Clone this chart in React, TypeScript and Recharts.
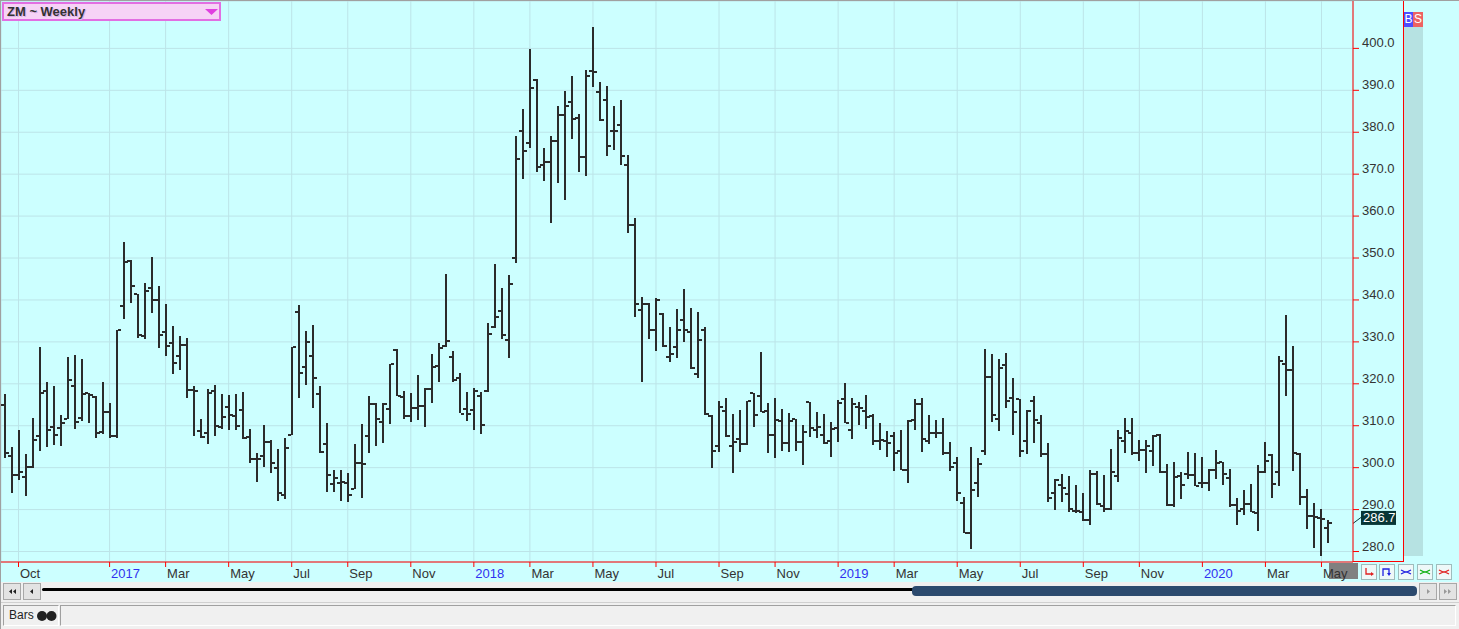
import React from 'react';
import {
  ComposedChart,
  Bar,
  XAxis,
  YAxis,
  CartesianGrid,
  ReferenceLine,
} from 'recharts';

// weekly OHLC, ZM, week 0 = Sep 23 2016
const OPEN = [
  314.9, 302.8, 298.3, 297.8, 300.2, 307.5, 318.3, 309.7, 309.4, 311.5,
  319.4, 311.9, 317.7, 316.8, 308.5, 313.3, 307.5, 338.5, 349.2, 341.3,
  331.3, 342.8, 340.1, 332.4, 329.8, 326.7, 329.2, 318.5, 308.7, 308.2,
  318.3, 309.8, 314.4, 312.3, 313.7, 307.3, 302.1, 302.8, 306.1, 299.8,
  293.5, 307.8, 337.1, 324.0, 326.6, 317.5, 305.7, 296.2, 296.4, 296.4,
  294.8, 301.0, 307.5, 315.1, 310.9, 313.9, 328.1, 316.9, 312.3, 314.3,
  314.7, 318.7, 324.2, 329.1, 326.3, 321.3, 314.0, 313.7, 317.1, 318.3,
  333.5, 337.3, 330.4, 349.9, 380.2, 377.4, 392.5, 372.1, 372.8, 378.0,
  384.1, 387.1, 383.5, 374.2, 394.7, 389.7, 387.7, 380.2, 381.7, 372.1,
  357.9, 337.5, 339.1, 332.9, 336.7, 326.3, 328.7, 335.2, 332.4, 322.3,
  332.8, 312.3, 305.2, 313.5, 305.2, 306.9, 305.7, 317.8, 317.1, 313.5,
  307.7, 311.1, 306.0, 311.6, 306.1, 315.7, 309.0, 307.8, 306.3, 309.5,
  316.4, 309.0, 314.5, 313.5, 312.3, 306.3, 306.3, 307.5, 304.0, 299.4,
  311.3, 315.1, 306.3, 308.2, 308.2, 303.4, 301.0, 291.5, 284.4, 296.3,
  303.9, 321.6, 311.7, 324.4, 316.7, 316.4, 306.3, 316.0, 310.7, 303.2,
  293.9, 295.9, 293.8, 289.7, 289.4, 287.5, 298.4, 290.9, 290.1, 298.0,
  306.3, 308.2, 303.4, 304.2, 304.0, 307.7, 299.0, 291.0, 298.0, 298.6,
  298.3, 296.4, 296.4, 299.4, 301.3, 297.6, 291.1, 290.1, 291.4, 289.3,
  299.0, 303.0, 299.0, 324.8, 323.4, 303.3, 293.0, 288.5, 287.9, 285.5,
];

const HIGH = [
  317.6, 304.9, 309.1, 303.2, 311.9, 328.8, 320.5, 319.4, 312.5, 326.3,
  326.9, 326.0, 317.9, 317.0, 320.5, 315.5, 332.9, 353.8, 349.5, 341.4,
  344.0, 350.2, 343.4, 339.1, 333.9, 331.5, 331.0, 319.4, 311.5, 318.7,
  319.6, 317.5, 317.3, 317.5, 318.1, 309.3, 303.4, 310.1, 306.5, 304.4,
  307.1, 328.8, 338.9, 332.7, 334.1, 319.5, 310.6, 299.4, 299.4, 298.7,
  305.6, 310.3, 317.2, 315.5, 315.5, 324.8, 328.2, 318.2, 317.9, 322.0,
  319.1, 327.1, 329.8, 346.3, 327.9, 322.5, 318.1, 319.0, 318.0, 334.5,
  348.6, 342.9, 345.9, 379.2, 385.5, 399.8, 392.6, 376.2, 379.0, 386.3,
  389.8, 393.3, 384.3, 394.8, 405.2, 391.9, 391.0, 386.3, 387.7, 374.6,
  359.5, 340.7, 339.3, 340.5, 336.9, 333.6, 337.9, 342.7, 338.1, 337.1,
  333.6, 312.5, 315.8, 316.7, 312.9, 313.7, 316.0, 317.9, 327.5, 315.5,
  316.5, 314.1, 313.1, 311.7, 310.2, 315.7, 313.3, 312.9, 311.0, 316.1,
  320.2, 316.7, 315.6, 317.4, 312.7, 310.7, 308.7, 308.6, 308.9, 311.3,
  316.4, 316.7, 312.5, 311.3, 311.9, 306.2, 302.6, 293.1, 305.0, 302.4,
  328.2, 327.2, 325.8, 327.4, 321.4, 316.4, 313.7, 317.2, 312.5, 306.0,
  297.2, 298.4, 297.9, 295.8, 294.0, 299.4, 299.2, 298.2, 304.4, 309.1,
  311.9, 311.9, 306.7, 306.5, 307.7, 308.1, 300.8, 301.4, 299.0, 303.8,
  303.4, 302.6, 299.6, 304.1, 301.4, 299.6, 292.7, 294.6, 296.0, 300.6,
  306.2, 303.2, 326.7, 336.5, 329.1, 303.6, 294.8, 291.5, 290.1, 287.5,
];

const LOW = [
  302.4, 294.0, 297.2, 293.3, 300.0, 304.1, 305.0, 305.4, 305.2, 311.5,
  309.3, 311.1, 310.7, 307.1, 308.2, 307.1, 307.1, 335.5, 339.3, 331.0,
  330.6, 336.9, 328.6, 326.6, 322.4, 323.3, 316.7, 307.4, 306.9, 305.7,
  307.4, 309.1, 309.0, 309.0, 306.9, 301.3, 296.6, 300.2, 298.7, 292.1,
  292.6, 307.7, 316.8, 319.8, 314.4, 303.6, 294.2, 294.2, 292.1, 291.8,
  294.8, 292.7, 303.7, 305.2, 305.9, 310.4, 316.9, 311.5, 310.9, 311.3,
  309.7, 315.4, 320.4, 328.8, 320.4, 312.9, 311.3, 309.1, 308.1, 318.0,
  333.3, 330.7, 326.2, 349.0, 368.8, 376.2, 370.5, 368.3, 358.2, 367.9,
  363.9, 378.3, 370.4, 369.6, 390.9, 382.7, 374.2, 375.8, 372.1, 356.0,
  335.9, 320.5, 330.7, 327.8, 328.8, 325.2, 326.2, 330.0, 323.6, 321.3,
  312.5, 299.9, 303.7, 307.4, 298.8, 303.6, 305.6, 309.9, 313.3, 303.6,
  302.1, 304.2, 303.8, 304.0, 300.6, 307.4, 307.1, 305.8, 302.6, 306.0,
  310.6, 306.9, 310.2, 309.3, 305.2, 304.2, 302.6, 299.2, 299.4, 296.2,
  308.9, 303.8, 305.7, 306.9, 303.0, 299.2, 292.1, 284.4, 280.6, 293.0,
  302.8, 311.1, 308.7, 314.3, 307.9, 302.5, 303.3, 306.0, 302.6, 291.9,
  289.7, 291.7, 289.4, 289.1, 287.3, 286.3, 291.1, 289.4, 289.9, 296.8,
  303.6, 303.0, 301.6, 298.6, 300.4, 298.7, 290.7, 290.7, 292.6, 297.4,
  295.5, 295.2, 294.4, 297.1, 296.0, 290.5, 286.3, 288.7, 289.3, 284.9,
  298.7, 292.7, 295.6, 317.3, 299.2, 291.1, 285.2, 280.7, 279.0, 282.1,
];

const CLOSE = [
  303.6, 298.3, 299.0, 300.2, 306.7, 317.9, 309.1, 307.9, 310.7, 321.0,
  310.9, 317.5, 317.3, 308.3, 313.3, 307.5, 332.8, 349.0, 343.3, 331.7,
  342.2, 340.1, 331.6, 329.0, 325.0, 329.2, 318.5, 318.4, 307.4, 317.9,
  309.9, 312.1, 312.5, 309.9, 307.1, 302.0, 302.0, 306.1, 301.2, 293.9,
  304.6, 328.7, 322.5, 330.0, 321.4, 303.7, 298.2, 297.5, 296.6, 293.5,
  301.2, 300.8, 315.1, 311.7, 315.2, 324.8, 317.2, 312.3, 314.3, 314.7,
  318.8, 324.0, 328.6, 330.2, 320.9, 312.9, 312.7, 318.4, 310.2, 331.9,
  335.9, 331.7, 343.9, 373.6, 375.6, 390.5, 371.8, 373.0, 378.0, 384.1,
  386.3, 383.1, 374.2, 393.3, 394.4, 382.8, 376.6, 380.3, 374.4, 357.9,
  339.1, 339.1, 332.9, 339.9, 329.0, 327.1, 332.9, 332.8, 323.7, 330.4,
  312.9, 303.9, 314.5, 307.5, 306.1, 305.7, 315.9, 312.5, 313.3, 307.7,
  311.3, 306.0, 311.1, 306.1, 308.6, 309.5, 309.8, 306.0, 309.3, 315.5,
  310.6, 315.3, 314.3, 312.1, 306.3, 306.7, 306.0, 303.6, 299.4, 311.1,
  315.2, 306.9, 308.2, 308.2, 303.4, 300.2, 293.9, 284.4, 294.7, 300.8,
  321.6, 312.5, 323.7, 315.9, 313.3, 304.0, 313.5, 311.3, 303.2, 292.7,
  297.1, 295.1, 290.1, 289.7, 287.5, 298.4, 291.3, 290.1, 299.0, 307.0,
  308.7, 303.4, 304.2, 305.2, 307.5, 299.0, 291.0, 297.8, 295.9, 298.3,
  295.6, 296.4, 299.4, 301.0, 298.6, 291.1, 289.7, 291.4, 289.4, 299.0,
  301.6, 296.2, 325.4, 323.3, 303.4, 292.9, 288.5, 288.3, 287.7, 286.7,
];

// first week of each month shown on the axis
const MONTH_WEEKS = [2, 15, 23, 32, 41, 49, 58, 67, 75, 84, 93, 102, 110, 119, 127, 136, 145, 154, 162, 171, 180, 188];
const MONTH_LABELS = ['Oct', '2017', 'Mar', 'May', 'Jul', 'Sep', 'Nov', '2018', 'Mar', 'May', 'Jul', 'Sep', 'Nov', '2019', 'Mar', 'May', 'Jul', 'Sep', 'Nov', '2020', 'Mar', 'May'];
const PRICE_TICKS = [280, 290, 300, 310, 320, 330, 340, 350, 360, 370, 380, 390, 400];
const EMPTY_WEEKS = 3;

const FONT = '"Liberation Sans", Arial, sans-serif';
const BAR_COLOR = '#2b2b2b';
const GRID = '#bce4e8';

const data = [];
for (let i = 0; i < OPEN.length; i++) {
  data.push({ t: i, range: [LOW[i], HIGH[i]], o: OPEN[i], h: HIGH[i], l: LOW[i], c: CLOSE[i] });
}
for (let k = 0; k < EMPTY_WEEKS; k++) {
  data.push({ t: OPEN.length + k, range: null });
}
const lastClose = CLOSE[CLOSE.length - 1];

const OhlcShape = (props) => {
  const { x, y, width, height, payload } = props;
  if (!payload || payload.h == null || height == null) return null;
  const cx = Math.round(x + width / 2);
  const span = payload.h - payload.l || 1;
  const yAt = (v) => y + ((payload.h - v) / span) * height;
  const yo = Math.round(yAt(payload.o));
  const yc = Math.round(yAt(payload.c));
  return (
    <g fill={BAR_COLOR}>
      <rect x={cx - 1} y={Math.round(y)} width={2} height={Math.max(Math.round(height), 1)} />
      <rect x={cx - 4} y={yo - 1} width={3} height={2} />
      <rect x={cx + 1} y={yc - 1} width={3} height={2} />
    </g>
  );
};

const MonthTick = ({ x, y, payload }) => {
  const idx = MONTH_WEEKS.indexOf(payload.value);
  const label = idx >= 0 ? MONTH_LABELS[idx] : '';
  const isYear = /^\d/.test(label);
  return (
    <text x={x + 1.5} y={y + 9} fill={isYear ? '#3030f0' : '#333'} fontSize={13} fontFamily={FONT} textAnchor="start">
      {label}
    </text>
  );
};

const PriceTick = ({ x, y, payload }) => (
  <text x={x + 1} y={y - 1} fill="#333" fontSize={13} fontFamily={FONT} textAnchor="start">
    {payload.value.toFixed(1)}
  </text>
);

const PriceTag = ({ viewBox }) => {
  if (!viewBox) return null;
  const ax = viewBox.x + viewBox.width;
  const y = viewBox.y;
  return (
    <g>
      <line x1={ax} y1={y} x2={ax + 8} y2={y - 6} stroke="#0a3a3a" strokeWidth={1} />
      <rect x={ax + 8} y={y - 12.5} width={35} height={14} fill="#073636" />
      <text x={ax + 10} y={y - 1} fill="#fff" fontSize={13} fontFamily={FONT}>
        {lastClose.toFixed(1)}
      </text>
    </g>
  );
};

const box = (style) => ({ position: 'absolute', boxSizing: 'border-box', ...style });

const AxisButton = ({ left, children }) => (
  <div style={box({ left, top: 564, width: 16, height: 16, background: '#eef8f8', border: '1px solid #9fbcbc' })}>
    <svg width={14} height={14} style={{ display: 'block' }}>{children}</svg>
  </div>
);

const ScrollButton = ({ left, children }) => (
  <div style={box({ left, top: 583, width: 18, height: 17, background: '#e3e3e3', border: '1px solid #a8a8a8' })}>
    <svg width={16} height={15} style={{ display: 'block' }}>{children}</svg>
  </div>
);

const Chevrons = ({ color }) => (
  <path d="M2 5 L6 7 L2 9 M12 5 L8 7 L12 9 M6 7 H8" stroke={color} strokeWidth={1.3} fill="none" />
);

export default function App() {
  return (
    <div style={{ position: 'fixed', left: 0, top: 0, width: 1459, height: 629, background: '#f0f0f0', overflow: 'hidden', fontFamily: FONT }}>
      {/* chart pane */}
      <div style={box({ left: 0, top: 0, width: 1459, height: 582, background: '#ccffff' })} />
      <div style={box({ left: 1329, top: 563, width: 29, height: 16, background: '#808080' })} />

      <div style={{ position: 'absolute', left: 0, top: 0 }}>
        <ComposedChart width={1404} height={583} data={data} margin={{ top: 1, right: 0, bottom: 0, left: 1 }} barCategoryGap={0}>
          <CartesianGrid stroke={GRID} strokeWidth={1} />
          <XAxis
            dataKey="t"
            type="category"
            ticks={MONTH_WEEKS}
            interval={0}
            height={21}
            tickSize={5}
            axisLine={{ stroke: '#ff0000' }}
            tickLine={{ stroke: '#ff0000' }}
            tick={<MonthTick />}
          />
          <YAxis
            orientation="right"
            type="number"
            width={51}
            domain={[277.5, 411.3]}
            ticks={PRICE_TICKS}
            allowDataOverflow
            tickSize={6}
            axisLine={{ stroke: '#ff0000' }}
            tickLine={{ stroke: '#ff0000' }}
            tick={<PriceTick />}
          />
          <Bar dataKey="range" barSize={7} shape={<OhlcShape />} isAnimationActive={false} />
          <ReferenceLine y={lastClose} stroke="none" label={<PriceTag />} />
        </ComposedChart>
      </div>

      {/* frame lines */}
      <div style={box({ left: 0, top: 0, width: 1459, height: 1, background: '#a0a0a0' })} />
      <div style={box({ left: 0, top: 0, width: 1, height: 629, background: '#a0a0a0' })} />
      <div style={box({ left: 1353, top: 561, width: 51, height: 1, background: '#ff0000' })} />
      <div style={box({ left: 1403, top: 1, width: 1, height: 561, background: '#ff0000' })} />

      {/* B / S strip */}
      <div style={box({ left: 1404, top: 12, width: 9, height: 15, background: '#4d4dff', color: '#fff', fontSize: 12, lineHeight: '15px', textAlign: 'center' })}>B</div>
      <div style={box({ left: 1413, top: 12, width: 10, height: 15, background: '#ee6262', color: '#fff', fontSize: 12, lineHeight: '15px', textAlign: 'center' })}>S</div>
      <div style={box({ left: 1404, top: 27, width: 19, height: 529, background: '#b6e2e2' })} />

      {/* symbol selector */}
      <div style={box({ left: 2, top: 2, width: 219, height: 19, background: '#f6d3f6', border: '2px solid #e26ee2' })}>
        <span style={{ position: 'absolute', left: 3, top: 0, fontSize: 13, fontWeight: 'bold', color: '#333', lineHeight: '15px', textShadow: '1px 1px 0 #d9b0e6' }}>
          ZM ~ Weekly
        </span>
        <svg width={14} height={8} style={{ position: 'absolute', left: 201, top: 5 }}>
          <path d="M0 0 H13 L6.5 6 Z" fill="#e040e0" />
        </svg>
      </div>

      {/* axis row buttons */}
      <AxisButton left={1361}>
        <path d="M4 3 V9 H10" stroke="#e02020" strokeWidth={1.3} fill="none" />
        <path d="M9 7 L12 9 L9 11 Z" fill="#e02020" />
      </AxisButton>
      <AxisButton left={1379}>
        <path d="M3 11 V4 H9 V9" stroke="#2020e0" strokeWidth={1.3} fill="none" />
        <path d="M7 8 H11 L9 11 Z" fill="#2020e0" />
      </AxisButton>
      <AxisButton left={1398}><Chevrons color="#2020e0" /></AxisButton>
      <AxisButton left={1417}><Chevrons color="#10b010" /></AxisButton>
      <AxisButton left={1436}><Chevrons color="#e02020" /></AxisButton>

      {/* scroll bar */}
      <ScrollButton left={3}>
        <path d="M5 7.5 L8 5 V10 Z M9 7.5 L12 5 V10 Z" fill="#222" />
      </ScrollButton>
      <ScrollButton left={23}>
        <path d="M6 7.5 L9 5 V10 Z" fill="#222" />
      </ScrollButton>
      <div style={box({ left: 42, top: 588, width: 874, height: 3, background: '#000', borderRadius: 2 })} />
      <div style={box({ left: 912, top: 586, width: 505, height: 10, background: '#2c4a6e', borderRadius: 4 })} />
      <ScrollButton left={1419}>
        <path d="M7 5 L10 7.5 L7 10 Z" fill="#9a9a9a" />
      </ScrollButton>
      <ScrollButton left={1439}>
        <path d="M4 5 L7 7.5 L4 10 Z M8 5 L11 7.5 L8 10 Z" fill="#9a9a9a" />
      </ScrollButton>

      {/* status row */}
      <div style={box({ left: 1, top: 602, width: 1458, height: 1, background: '#d0d0d0' })} />
      <div style={box({ left: 3, top: 605, width: 56, height: 21, border: '1px solid #a0a0a0', borderRightColor: '#fff', borderBottomColor: '#fff' })}>
        <span style={{ position: 'absolute', left: 5, top: 2, fontSize: 12, color: '#222', lineHeight: '15px' }}>Bars</span>
        <svg width={22} height={12} style={{ position: 'absolute', left: 32, top: 4 }}>
          <circle cx={6} cy={6} r={5} fill="#222" />
          <circle cx={15.5} cy={6} r={5} fill="#222" />
        </svg>
      </div>
      <div style={box({ left: 60, top: 605, width: 1396, height: 21, border: '1px solid #a0a0a0', borderRightColor: '#fff', borderBottomColor: '#fff' })} />
    </div>
  );
}
